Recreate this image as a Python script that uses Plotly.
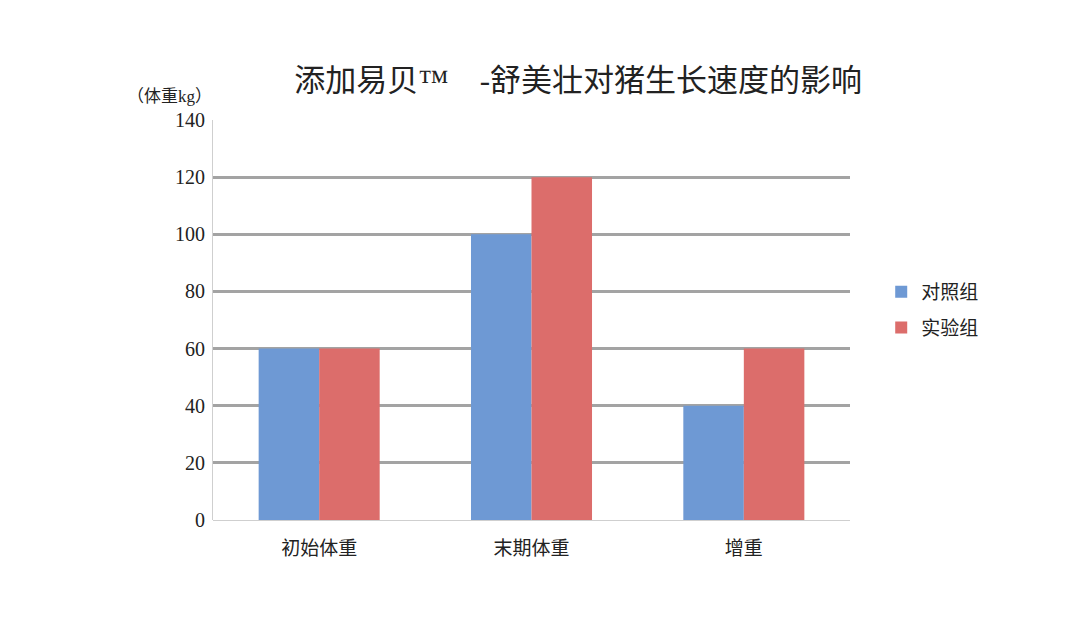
import plotly.graph_objects as go

categories = ["初始体重", "末期体重", "增重"]
control = [60, 100, 40]
treatment = [60, 120, 60]
series_names = ["对照组", "实验组"]
y_ticks = [0, 20, 40, 60, 80, 100, 120, 140]

FONT = "Liberation Serif, DejaVu Serif, Noto Sans CJK SC, serif"

fig = go.Figure()
fig.add_trace(go.Bar(x=categories, y=control, name=series_names[0], legendgroup="a",
                     marker=dict(color="#6e99d4", line=dict(width=0))))
fig.add_trace(go.Bar(x=categories, y=treatment, name=series_names[1], legendgroup="b",
                     marker=dict(color="#dc6d6b", line=dict(width=0))))

fig.update_layout(
    width=1088, height=626,
    paper_bgcolor="white", plot_bgcolor="white",
    margin=dict(l=205, r=246, t=112, b=114),
    barmode="group", bargap=0.43, bargroupgap=0,
    font=dict(family=FONT, size=18, color="#222222"),
    title=dict(text="添加易贝™　-舒美壮对猪生长速度的影响", x=0.524, xanchor="center",
               y=0.885, yanchor="middle",
               font=dict(family=FONT, size=31, color="#222222")),
    legend=dict(x=1.049, y=0.525, xanchor="left", yanchor="middle",
                font=dict(family=FONT, size=19, color="#222222"),
                tracegroupgap=8, itemwidth=30),
    xaxis=dict(showgrid=False, showline=False, ticks="", ticklabelstandoff=15,
               tickfont=dict(family=FONT, size=19, color="#222222")),
    yaxis=dict(range=[0, 140], tickvals=y_ticks, showgrid=True,
               gridcolor="#a3a3a3", gridwidth=2.5,
               zeroline=True, zerolinecolor="#cfcfcf", zerolinewidth=1,
               showline=True, linecolor="#cfcfcf", linewidth=1,
               ticks="", ticklen=0, ticklabelstandoff=3,
               tickfont=dict(family=FONT, size=20, color="#222222")),
    annotations=[dict(text="（体重kg）", xref="paper", yref="paper",
                      x=0.002, y=1.0, xanchor="right", yanchor="bottom", yshift=12,
                      showarrow=False,
                      font=dict(family=FONT, size=17, color="#222222"))],
)

fig.write_html("out.html")
